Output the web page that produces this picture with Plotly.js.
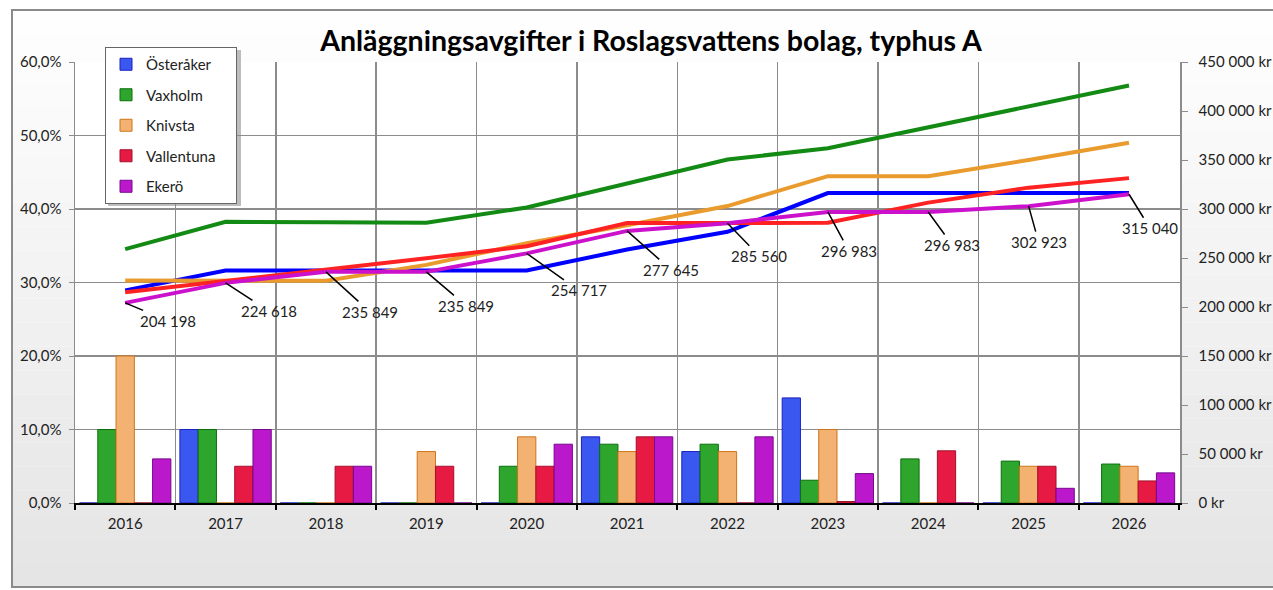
<!DOCTYPE html>
<html>
<head>
<meta charset="utf-8">
<script src="https://cdn.plot.ly/plotly-3.0.1.min.js"></script>
<style>
  html, body { margin: 0; padding: 0; background: #fff; }
  #chart { width: 1273px; height: 590px; }
</style>
</head>
<body>
<div id="chart"></div>
<script>
// år (kategorier)
var years = ['2016', '2017', '2018', '2019', '2020', '2021', '2022', '2023', '2024', '2025', '2026'];

// höjning i procent (staplar, vänster axel)
var osterakerPct   = [0, 10, 0, 0, 0, 9, 7, 14.3, 0, 0, 0];
var vaxholmPct     = [10, 10, 0, 0, 5, 8, 8, 3.1, 6, 5.7, 5.3];
var knivstaPct     = [20, 0, 0, 7, 9, 7, 7, 10, 0, 5, 5];
var vallentunaPct  = [0, 5, 5, 5, 5, 9, 0, 0.2, 7.1, 5, 3];
var ekeroPct       = [6, 10, 5, 0, 8, 9, 9, 4, 0, 2, 4.1];

// avgift i kr (linjer, höger axel)
var osterakerKr  = [217000, 237300, 237300, 237300, 237300, 258600, 276700, 316300, 316300, 316300, 316300];
var vaxholmKr    = [259000, 287000, 286500, 286000, 301500, 326000, 350500, 362000, 383000, 404000, 426000];
var knivstaKr    = [227000, 227000, 226700, 243000, 265000, 283500, 303000, 333500, 333500, 350000, 367600];
var vallentunaKr = [215000, 226500, 237800, 249700, 262000, 285600, 285600, 286000, 306500, 321800, 331500];
var ekeroKr      = [204198, 224618, 235849, 235849, 254717, 277645, 285560, 296983, 296983, 302923, 315040];

var names = ['Österåker', 'Vaxholm', 'Knivsta', 'Vallentuna', 'Ekerö'];
var pctSeries = [osterakerPct, vaxholmPct, knivstaPct, vallentunaPct, ekeroPct];
var krSeries = [osterakerKr, vaxholmKr, knivstaKr, vallentunaKr, ekeroKr];

var barFill = ['#3a58f0', '#2ea62e', '#f3b272', '#e61a42', '#bb18cc'];
var barEdge = ['#1a22c0', '#0b6e0b', '#cf7418', '#a3102c', '#74098c'];
var lineColor = ['#0000ff', '#138a13', '#e99b2e', '#ff2222', '#cc11cc'];

// etikettförskjutning (px) för Ekerö-etiketterna
var labelDx = [43, 43, 44, 40, 52, 44, 32, 21, 24, 10, 21];
var labelDy = [18, 28, 40, 34, 37, 39, 33, 39, 33, 36, 34];

var W = 1273, H = 590;
var M = { l: 75, r: 93, t: 62, b: 87 };
var pw = W - M.l - M.r, ph = H - M.t - M.b;
function px(x) { return (x - M.l) / pw; }
function py(y) { return (H - M.b - y) / ph; }

function krText(v) {
    return String(v).replace(/\B(?=(\d{3})+(?!\d))/g, ' ');
}

var font = 'Lato, "Open Sans", sans-serif';

var traces = [];
for (var i = 0; i < names.length; i++) {
    traces.push({
        type: 'bar',
        // lite extra luft i legendrutan
        name: i === 3 ? names[i] + '\u00a0\u00a0\u00a0\u00a0' : names[i],
        x: years,
        y: pctSeries[i],
        legendgroup: 'g' + i,
        marker: { color: barFill[i], line: { color: barEdge[i], width: 1 } }
    });
}
for (var i = 0; i < names.length; i++) {
    traces.push({
        type: 'scatter',
        mode: 'lines',
        name: names[i],
        x: years,
        y: krSeries[i],
        yaxis: 'y2',
        legendgroup: 'g' + i,
        showlegend: false,
        line: { color: lineColor[i], width: 4 }
    });
}

// bakgrund: ljus gråtoning i ramen
var shapes = [];
var frameTop = 10, frameBottom = 587, steps = 24;
for (var k = 0; k < steps; k++) {
    var y0 = frameTop + (frameBottom - frameTop) * k / steps;
    var y1 = frameTop + (frameBottom - frameTop) * (k + 1) / steps;
    var c = Math.round(255 - 27 * (k + 0.5) / steps);
    shapes.push({
        type: 'rect', xref: 'paper', yref: 'paper', layer: 'below',
        x0: px(12), x1: px(W + 20), y0: py(y1), y1: py(y0),
        fillcolor: 'rgb(' + c + ',' + c + ',' + c + ')', line: { width: 0 }
    });
}
shapes.push({
    type: 'rect', xref: 'paper', yref: 'paper', layer: 'below',
    x0: px(12), x1: px(W + 20), y0: py(frameBottom), y1: py(frameTop),
    fillcolor: 'rgba(0,0,0,0)', line: { color: '#8a8a8a', width: 2 }
});
shapes.push({
    type: 'rect', xref: 'paper', yref: 'paper', layer: 'below',
    x0: 0, x1: 1, y0: 0, y1: 1,
    fillcolor: '#ffffff', line: { width: 0 }
});
// legendskugga
shapes.push({
    type: 'rect', xref: 'paper', yref: 'paper', layer: 'below',
    x0: px(108), x1: px(241), y0: py(206), y1: py(50),
    fillcolor: '#bdbdbd', line: { width: 0 }
});

var annotations = [];
for (var j = 0; j < years.length; j++) {
    annotations.push({
        x: j, y: ekeroKr[j], xref: 'x', yref: 'y2',
        text: krText(ekeroKr[j]),
        showarrow: true, arrowhead: 0, arrowwidth: 1.5, arrowcolor: '#000',
        standoff: 0, ax: labelDx[j], ay: labelDy[j],
        font: { family: font, size: 15, color: '#222' }
    });
}

var layout = {
    width: W, height: H,
    margin: M,
    paper_bgcolor: '#ffffff',
    plot_bgcolor: 'rgba(0,0,0,0)',
    separators: ', ',
    font: { family: font, size: 15, color: '#222' },
    title: {
        text: '<b>Anläggningsavgifter i Roslagsvattens bolag, typhus A</b>',
        font: { family: font, size: 28.5, color: '#000' },
        xref: 'container', x: 651 / W, xanchor: 'center', y: 1 - 41 / H, yanchor: 'middle'
    },
    barmode: 'group',
    bargap: 0.09,
    bargroupgap: 0,
    showlegend: true,
    legend: {
        x: px(105), y: py(47), xanchor: 'left', yanchor: 'top',
        bgcolor: '#ffffff', bordercolor: '#666', borderwidth: 1,
        tracegroupgap: 8, font: { family: font, size: 15, color: '#222' },
        itemwidth: 30
    },
    xaxis: {
        type: 'category',
        tickson: 'boundaries',
        ticks: 'outside', ticklen: 5, tickwidth: 2, tickcolor: '#000',
        showline: true, linecolor: '#000', linewidth: 2,
        showgrid: true, gridcolor: '#8c8c8c', gridwidth: 1.5,
        ticklabelstandoff: 6,
        tickfont: { family: font, size: 15, color: '#222' }
    },
    yaxis: {
        range: [0, 60], dtick: 10, tick0: 0,
        ticksuffix: '%', tickformat: '.1f',
        ticks: 'outside', ticklen: 5, tickcolor: '#8c8c8c',
        showline: true, linecolor: '#8c8c8c', linewidth: 1.5,
        showgrid: true, gridcolor: '#8c8c8c', gridwidth: 1.5,
        zeroline: false, ticklabelstandoff: 4,
        tickfont: { family: font, size: 15, color: '#222' }
    },
    yaxis2: {
        overlaying: 'y', side: 'right',
        range: [0, 450000], dtick: 50000, tick0: 0,
        tickformat: ',d', ticksuffix: ' kr',
        ticks: 'outside', ticklen: 6, tickcolor: '#8c8c8c',
        showline: true, linecolor: '#8c8c8c', linewidth: 1.5,
        showgrid: false, zeroline: false, ticklabelstandoff: 8,
        tickfont: { family: font, size: 15, color: '#222' }
    },
    shapes: shapes,
    annotations: annotations
};

Plotly.newPlot('chart', traces, layout, { displayModeBar: false, staticPlot: true });
</script>
</body>
</html>
